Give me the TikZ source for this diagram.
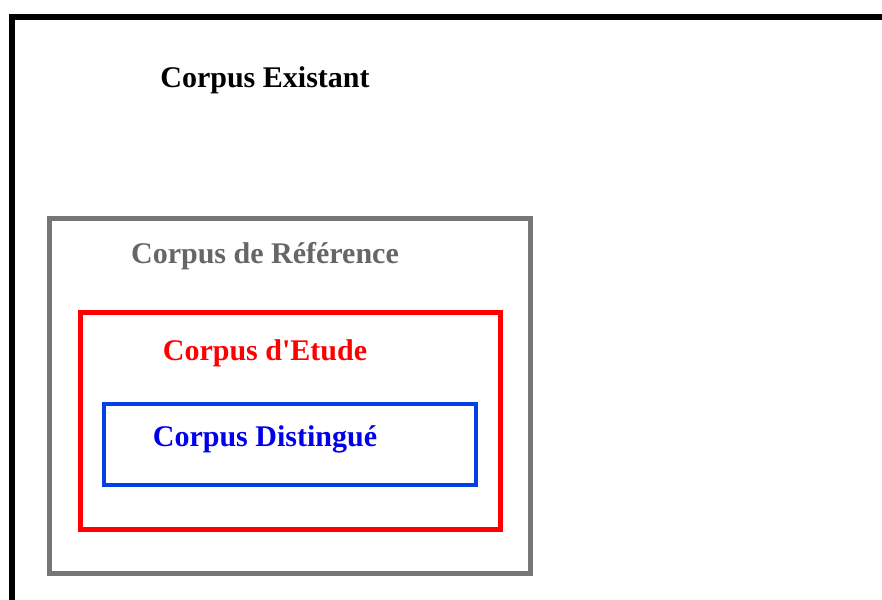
\documentclass[tikz,border=0pt]{standalone}
\usepackage{fontspec}
\setmainfont{Liberation Serif}
\definecolor{refgray}{RGB}{118,118,118}
\definecolor{txtgray}{RGB}{102,102,102}
\definecolor{boxblue}{RGB}{5,64,230}
\definecolor{txtblue}{RGB}{0,0,235}

\begin{document}
\begin{tikzpicture}[
  x=1pt, y=-1pt,
  label/.style={anchor=base, font=\fontsize{30}{35}\selectfont\bfseries, inner sep=0pt}, % all texts bold
  existant/.style={draw=black, line width=6pt},
  reference/.style={draw=refgray, line width=5pt},
  etude/.style={draw=red, line width=5pt},
  distingue/.style={draw=boxblue, line width=4pt}
]
  \useasboundingbox (0,0) rectangle (882,599);
  \clip (0,0) rectangle (882,599);

  % nested corpus boxes
  \draw[existant] (11.5,17) rectangle (900,620);
  \draw[reference] (49.5,218) rectangle (530,573);
  \draw[etude] (80,312) rectangle (500,529);
  \draw[distingue] (104,404) rectangle (475.5,484.5);

  \node[label, text=black] (existantlbl) at (265,88) {Corpus Existant};
  \node[label, text=txtgray] (referencelbl) at (265,263) {Corpus de Référence};
  \node[label, text=red] (etudelbl) at (265,360) {Corpus d\textquotesingle Etude};
  \node[label, text=txtblue] (distinguelbl) at (265,446.5) {Corpus Distingué};
\end{tikzpicture}
\end{document}
